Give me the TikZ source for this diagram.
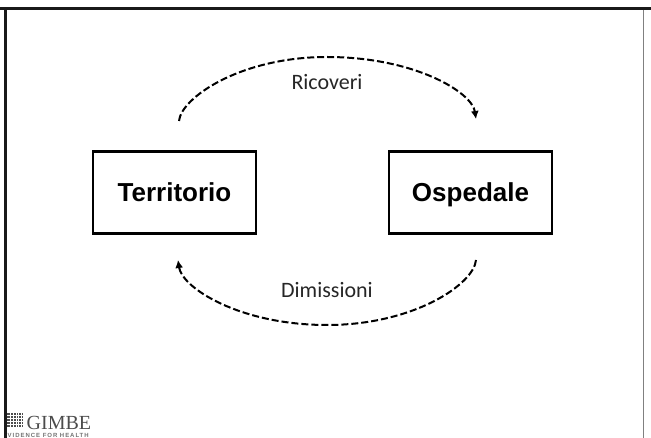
\documentclass[tikz,border=0pt]{standalone}
\usepackage{fontspec}
\setmainfont{Carlito}
\newfontfamily\boxfont{Liberation Sans}
\newfontfamily\logofont{Liberation Serif}
\newfontfamily\logosmall[LetterSpace=16]{Liberation Sans}
\usetikzlibrary{arrows.meta}
\tikzset{
  placebox/.style={draw,line width=2.2pt,minimum width=163pt,minimum height=82pt,inner sep=0pt,text height=19pt,text depth=0pt,font=\boxfont\bfseries\fontsize{26}{30}\selectfont},
  flowlabel/.style={font=\fontsize{22}{26}\selectfont,text=black!85,inner sep=0pt},
  flow/.style={line width=2pt,dash pattern=on 7pt off 3pt,-{Latex[length=8pt,width=8pt]}}
}
\begin{document}
\begin{tikzpicture}[x=1pt,y=-1pt]
\useasboundingbox (0,0) rectangle (651,438);
%%% slide frame
\coordinate (topleft) at (0,8.5);
\coordinate (topright) at (651,8.5);
\coordinate (leftup) at (5.3,8.5);
\coordinate (leftdown) at (5.3,438);
\coordinate (rightup) at (643,8.5);
\coordinate (rightdown) at (643,438);
\draw[line width=1pt,black!50] (rightup) -- (rightdown);
\draw[line width=3pt,black!90] (topleft) -- (topright);
\draw[line width=2.6pt,black!90] (leftup) -- (leftdown);
%%% the two places
\node[placebox] (territorio) at (174.5,192.5) {Territorio};
\node[placebox] (ospedale) at (470.5,192.5) {Ospedale};
%%% the two flows
\coordinate (ricoveristart) at (179,121);
\coordinate (ricoveritop) at (327,57);
\coordinate (ricoveriend) at (476,119);
\coordinate (dimissionistart) at (476,260);
\coordinate (dimissionibottom) at (327,325);
\coordinate (dimissioniend) at (178,260);
\draw[flow] (ricoveristart) .. controls (181,98) and (240,57) .. (ricoveritop)
  .. controls (414,57) and (472,92) .. (ricoveriend);
\draw[flow] (dimissionistart) .. controls (474,284) and (414,325) .. (dimissionibottom)
  .. controls (240,325) and (182,288) .. (dimissioniend);
\node[flowlabel] (ricoveri) at (327,82) {Ricoveri};
\node[flowlabel] (dimissioni) at (327,290) {Dimissioni};
%%% logo
\foreach \row in {0,...,4} {
  \fill[black!70] (7,{413.5+\row*2.8}) rectangle (23,{415.5+\row*2.8});
}
\foreach \col in {0,...,4} {
  \fill[white] ({10+\col*2.8},413) rectangle ({10.7+\col*2.8},428);
}
\node[anchor=west,inner sep=0pt,font=\logofont\fontsize{20}{22}\selectfont,text=black!70] (gimbe) at (26.5,422.5) {GIMBE};
\node[anchor=west,inner sep=0pt,font=\logosmall\bfseries\fontsize{6}{7}\selectfont,text=black!55] (health) at (7.5,435.5) {VIDENCE FOR HEALTH};
\end{tikzpicture}
\end{document}
